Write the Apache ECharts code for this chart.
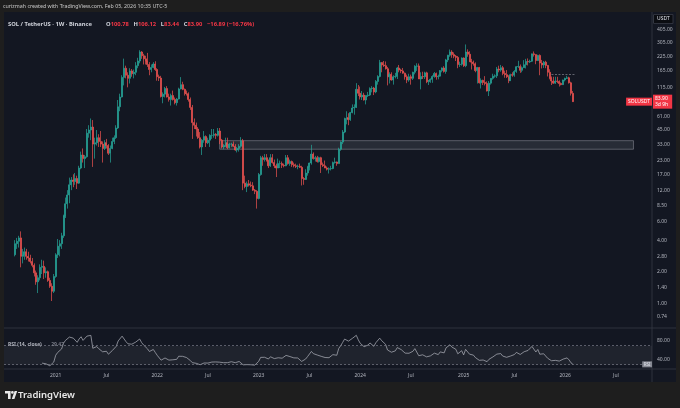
<!DOCTYPE html>
<html><head><meta charset="utf-8">
<script src="https://cdn.jsdelivr.net/npm/echarts@6/dist/echarts.min.js"></script>
<style>html,body{margin:0;padding:0;background:#1e1e1e;}#c{width:680px;height:408px;}</style>
</head><body><div id="c"></div>
<script>
// ---- data (weekly SOL/USDT, Binance) : [open, high, low, close] ----
const firstCategoryWeek = '2020-07-06';   // first weekly slot on the time axis
const firstCandleWeek = '2020-08-10';
const firstLabelWeek = '2021-01-04';
const categoryCount = 332;
const ohlc = [
// 2020
[2.90,4.00,2.80,3.70],[3.70,4.20,3.30,3.90],[3.90,4.40,3.40,4.20],[4.20,4.85,2.20,2.80],
[2.80,3.30,2.40,2.90],[2.90,3.40,2.60,3.10],[3.10,3.30,2.60,2.80],[2.80,3.10,2.50,2.70],
[2.70,2.90,2.40,2.50],[2.50,2.70,2.20,2.30],[2.30,2.40,1.80,1.95],[1.95,2.05,1.50,1.60],
[1.60,1.85,1.25,1.75],[1.75,2.35,1.65,2.20],[2.20,2.60,1.90,2.25],[2.25,2.55,1.70,1.95],
[1.95,2.20,1.75,2.00],[2.00,2.05,1.60,1.65],[1.65,1.75,1.40,1.45],[1.45,1.55,1.05,1.30],
[1.30,1.90,1.25,1.80],
// 2021
[1.80,3.00,1.75,2.90],[2.90,4.10,2.70,3.50],[3.50,4.00,2.80,3.70],[3.70,4.70,3.30,4.40],
[4.40,7.00,4.20,6.80],[6.80,10.2,6.50,8.90],[8.90,12.0,8.00,10.8],[10.8,15.8,9.00,13.5],
[13.5,16.0,12.0,15.0],[15.0,17.0,12.8,14.5],[14.5,17.5,13.5,15.5],[15.5,16.5,12.3,14.0],
[14.0,20.5,13.8,19.5],[19.5,28.0,19.0,26.0],[26.0,30.0,22.0,24.0],[24.0,26.0,19.5,25.0],
[25.0,46.0,24.5,42.0],[42.0,50.0,38.0,45.0],[45.0,58.0,36.0,48.0],[48.0,56.0,20.0,33.0],
[33,38,24,34],[34,45,32,38],[38,41,31,35],[35,44,31,33],[33,35,22,30],[30,36,29,34],
[34,37,30,32],[32,33,26,27],[27,32,22,30],[30,38,29.5,35],[35,40,33,38],[38,50,37,47],
[47,87,46,75],[75,100,68,93],[93,150,92,143],[143,216,120,175],[175,185,140,150],
[150,160,115,140],[140,175,125,165],[165,172,145,155],[155,170,140,160],[160,200,150,185],
[185,220,175,205],[205,260,195,250],[250,255,215,230],[230,240,190,215],[215,230,190,205],
[205,245,180,190],[190,200,150,170],[170,190,160,178],[178,200,175,192],[192,204,165,170],
// 2022
[170,175,133,145],[145,152,132,141],[141,148,92,94],[94,103,81,99],[99,116,92,112],
[112,118,92,93],[93,100,84,88],[88,100,77,96],[96,107,86,88],[88,92,79,82],[82,91,77,89],
[89,114,88,111],[111,144,110,122],[122,130,108,110],[110,112,96,101],[101,107,96,100],
[100,103,84,88],[88,92,70,74],[74,78,37,53],[53,58,46,50],[50,53,39,46],[46,48,37,38],
[38,43,30,31],[31,37,26,36],[36,44,34,39],[39,40,31,34],[34,38,33,36],[36,41,31,40],
[40,46,37,40],[40,46,38,41],[41,42,37,40],[40,47,39,44],[44,47,33,36],[36,37,30,31],
[31,33,29.5,32],[32,38,31,34],[34,38,29.5,30.5],[30.5,34,30,33],[33,34,31,33],
[33,35,31,31.5],[31.5,33,28.5,29],[29,31,27.5,30],[30,33,28,31.5],[31.5,38.5,30.5,35.5],
[35.5,37,12,14],[14,16.5,12.5,13],[13,14.5,11.5,13.8],[13.8,15,13,13.4],[13.4,14.5,12.8,13.2],
[13.2,14.3,11.8,12],[12,12.3,11,11.7],[11.7,12,8,10],
// 2023
[10,17.5,9.8,16.9],[16.9,25.5,16.5,24.5],[24.5,25.5,20.5,23.5],[23.5,26.5,22.5,24.5],
[24.5,26.5,22.5,23],[23,23.5,19.5,20.5],[20.5,26.5,20,24.5],[24.5,26.5,21.5,22],
[22,23.5,19.5,20.5],[20.5,21.5,16,19.5],[19.5,24,19.5,21.5],[21.5,23,19.5,21.5],
[21.5,22.5,19.5,20.7],[20.7,21.5,19.8,20.5],[20.5,26,20.3,24.5],[24.5,26,21,21.5],
[21.5,23.5,20.5,22.5],[22.5,23,20,21],[21,22,19.8,20.5],[20.5,21.5,19.5,20.2],
[20.2,21,19,20.3],[20.3,21.5,19.5,19.8],[19.8,20.5,13.3,15.5],[15.5,16,13.5,15.2],
[15.2,19,15,17.5],[17.5,20.5,16.5,20],[20,22,18.5,21.8],[21.8,32.5,21,26.5],
[26.5,27.5,23.5,24],[24,25.5,22.5,24.5],[24.5,25.5,22,22.5],[22.5,25,22,24.5],
[24.5,25,17.5,21],[21,22,20,20.5],[20.5,23,19.5,19.5],[19.5,20.2,18.5,19],
[19,19.8,17.3,19.2],[19.2,20.5,18.5,19.3],[19.3,22.5,19,22],[22,24.5,21.5,22.3],
[22.3,22.5,20.5,21.5],[21.5,30.5,21.5,29.5],[29.5,35,28.5,34.5],[34.5,45,33,43],
[43,59,42,58],[58,68,51,59],[59,65,50,56.5],[56.5,67,55,66],[66,79,65,73],[73,79,63,74],
[74,126,73,110],[110,121,95,101],
// 2024
[101,117,88,93],[93,106,87,97],[97,102,86,87],[87,96,79,96],[96,104,93,97],[97,115,95,112],
[112,118,103,113],[113,116,97,104],[104,135,101,131],[131,150,122,146],[146,210,143,198],
[198,200,160,188],[188,205,180,185],[185,203,170,173],[173,180,120,145],[145,160,125,153],
[153,160,133,135],[135,150,122,145],[145,158,140,146],[146,180,138,176],[176,188,160,168],
[168,173,157,165],[165,176,155,157],[157,159,136,145],[145,152,126,135],[135,155,130,145],
[145,152,122,140],[140,162,135,160],[160,187,153,183],[183,195,165,184],[184,194,138,138],
[138,160,110,146],[146,162,138,145],[145,162,138,158],[158,162,126,130],[130,135,121,134],
[134,140,127,137],[137,150,127,146],[146,161,142,156],[156,159,136,145],[145,152,137,147],
[147,168,145,166],[166,178,160,176],[176,183,159,163],[163,215,155,210],[210,235,200,233],
[233,264,225,250],[250,260,220,236],[236,248,218,228],[228,234,205,222],[222,229,175,190],
[190,202,180,191],[191,222,185,219],
// 2025
[219,222,180,185],[185,295,179,250],[250,265,225,238],[238,254,200,203],[203,215,170,200],
[200,207,185,193],[193,199,160,166],[166,180,125,178],[178,180,125,127],[127,140,112,134],
[134,136,121,128],[128,147,120,125],[125,131,105,106],[106,132,95,126],[126,140,122,140],
[140,155,136,147],[147,153,142,148],[148,180,141,172],[172,185,160,168],[168,188,162,177],
[177,184,150,156],[156,166,142,152],[152,168,141,145],[145,150,126,133],[133,155,132,152],
[152,160,145,150],[150,168,145,163],[163,183,158,181],[181,206,176,182],[182,190,158,167],
[167,182,160,177],[177,209,176,189],[189,215,174,203],[203,217,186,201],[201,211,196,204],
[204,241,201,240],[240,253,226,236],[236,237,191,207],[207,235,205,232],[232,237,150,196],
[196,210,174,188],[188,205,176,200],[200,206,175,186],[186,188,146,160],[160,171,137,141],
[141,146,121,132],[132,145,124,126],[126,145,124,132],[132,145,126,131],[131,134,117,125],
[125,128,120,122],[122,136,121,135],
// 2026
[135,142,131,140],[140,148,138,142],[142,145,125,127],[127,130,96,100.78],[100.78,106.12,83.44,83.90]
];
const priceTicks = [0.74,1,1.4,2,2.8,4,6,8.5,12,17,23,33,45,61,115,165,225,305,405];
const rsiTicks = [40, 80];
const rsiBands = [70, 30];
const rsiPeriod = 14;
const zone = { from: '2022-08-15', to: '2026-09-07', top: 35.6, bottom: 29.5 };
const rangeTop = { from: '2025-11-17', to: '2026-02-09', value: 153 };
const lastPrice = 83.90;
const legendParts = { name: 'SOL / TetherUS · 1W · Binance', o: '100.78', h: '106.12', l: '83.44', c: '83.90', chg: '−16.89 (−16.76%)' };
const rsiLegendValue = '29.47';
const headerText = 'curizmah created with TradingView.com, Feb 05, 2026 10:35 UTC-5';

// ---- build ----
const DAY = 864e5;
const t0 = Date.parse(firstCategoryWeek + 'T00:00:00Z');
const cats = [];
for (let k = 0; k < categoryCount; k++) cats.push(new Date(t0 + k * 7 * DAY).toISOString().slice(0, 10));
const offset = cats.indexOf(firstCandleWeek);

const candleData = cats.map((_, k) => {
  const c = ohlc[k - offset];
  return c ? [c[0], c[3], c[2], c[1]] : ['-', '-', '-', '-'];
});
const closes = ohlc.map(c => c[3]);
function rsiOf(vals, n) {
  const out = new Array(vals.length).fill(null);
  let g = 0, l = 0;
  for (let i = 1; i < vals.length; i++) {
    const d = vals[i] - vals[i - 1];
    const up = Math.max(d, 0), dn = Math.max(-d, 0);
    if (i <= n) { g += up / n; l += dn / n; }
    else { g = (g * (n - 1) + up) / n; l = (l * (n - 1) + dn) / n; }
    if (i >= n) out[i] = l === 0 ? 100 : 100 - 100 / (1 + g / l);
  }
  return out;
}
const rsi = rsiOf(closes, rsiPeriod);
const rsiData = cats.map((_, k) => { const v = rsi[k - offset]; return v == null ? '-' : +v.toFixed(2); });
const lastRsi = rsi[rsi.length - 1];

const UP = '#26a69a', DOWN = '#ef5350', TXT = '#b2b5be', FRAME = '#363a45';
const FONT = '"Noto Sans", Roboto, sans-serif';
const HIDDEN_LINE = { color: 'rgba(0,0,0,0)', width: 0 };

const chart = echarts.init(document.getElementById('c'), null, { renderer: 'canvas', width: 680, height: 408 });
chart.setOption({
  backgroundColor: '#1e1e1e',
  animation: false,
  textStyle: { fontFamily: FONT },
  title: [
    { left: 8, top: 15.5, padding: 0,
      text: `{w|${legendParts.name}}   {w|O}{r|${legendParts.o}} {w|H}{r|${legendParts.h}} {w|L}{r|${legendParts.l}} {w|C}{r|${legendParts.c}} {r|${legendParts.chg}}`,
      textStyle: { rich: { w: { color: '#d1d4dc', fontSize: 5.8, fontFamily: FONT }, r: { color: '#f23645', fontSize: 5.8, fontFamily: FONT } } } },
    { left: 8, top: 336, padding: 0,
      text: `{a|RSI (14, close)}  {b|${rsiLegendValue}}`,
      textStyle: { rich: { a: { color: TXT, fontSize: 5, fontFamily: FONT }, b: { color: '#787b86', fontSize: 5, fontFamily: FONT } } } }
  ],
  grid: [
    { left: 4, right: 28, top: 12, height: 316 },
    { left: 4, right: 28, top: 328, height: 41 }
  ],
  xAxis: [
    { type: 'category', data: cats, gridIndex: 0, axisLine: { show: false }, axisTick: { show: false }, axisLabel: { show: false }, splitLine: { show: false } },
    { type: 'category', data: cats, gridIndex: 1, axisLine: { show: false }, axisTick: { show: false }, splitLine: { show: false },
      axisLabel: { color: TXT, fontSize: 5, margin: 4, fontFamily: FONT,
        interval: (i, v) => { const d = new Date(v + 'T00:00:00Z'); return v >= firstLabelWeek && (d.getUTCMonth() === 0 || d.getUTCMonth() === 6) && d.getUTCDate() <= 7; },
        formatter: v => { const d = new Date(v + 'T00:00:00Z'); return d.getUTCMonth() === 0 ? String(d.getUTCFullYear()) : 'Jul'; } } }
  ],
  yAxis: [
    { type: 'log', logBase: 10, min: 0.58, max: 602, gridIndex: 0, position: 'right',
      axisLine: { show: false }, axisTick: { show: false }, splitLine: { show: false },
      axisLabel: { customValues: priceTicks, formatter: v => Number(v).toFixed(2), color: TXT, fontSize: 5, margin: 5, fontFamily: FONT } },
    { type: 'value', min: 21, max: 107, gridIndex: 1, position: 'right',
      axisLine: { show: false }, axisTick: { show: false }, splitLine: { show: false },
      axisLabel: { customValues: rsiTicks, formatter: v => Number(v).toFixed(2), color: TXT, fontSize: 5, margin: 5, fontFamily: FONT } }
  ],
  series: [
    { type: 'candlestick', xAxisIndex: 0, yAxisIndex: 0, data: candleData, barWidth: 1.5, large: false,
      emphasis: { disabled: true },
      itemStyle: { color: UP, color0: DOWN, borderColor: UP, borderColor0: DOWN, borderColorDoji: UP, borderWidth: 0.7 },
      markArea: { silent: true,
        itemStyle: { color: 'rgba(150,153,163,0.16)', borderColor: 'rgba(170,173,183,0.55)', borderWidth: 0.8 },
        data: [[{ xAxis: zone.from, yAxis: zone.top }, { xAxis: zone.to, yAxis: zone.bottom }]] },
      markLine: { silent: true, symbol: 'none', animation: false, label: { show: false },
        data: [
          [{ coord: [rangeTop.from, rangeTop.value], lineStyle: { color: '#9598a1', type: [2, 1.5], width: 0.6 } }, { coord: [rangeTop.to, rangeTop.value] }],
          { yAxis: lastPrice, lineStyle: HIDDEN_LINE,
            label: { show: true, position: 'end', distance: 1, formatter: lastPrice.toFixed(2) + '\n3d 9h', backgroundColor: '#f23645', color: '#ffffff', fontSize: 5, lineHeight: 6, padding: [1, 4, 1, 2], fontFamily: FONT } },
          { yAxis: lastPrice, lineStyle: HIDDEN_LINE,
            label: { show: true, position: 'insideEnd', distance: 0, formatter: 'SOLUSDT', backgroundColor: '#f23645', color: '#ffffff', fontSize: 5, padding: [1.5, 2], fontFamily: FONT } }
        ] } },
    { type: 'line', xAxisIndex: 1, yAxisIndex: 1, data: rsiData, symbol: 'none', connectNulls: false,
      lineStyle: { color: '#a9acb5', width: 0.75 },
      markArea: { silent: true, itemStyle: { color: 'rgba(120,123,134,0.12)' }, data: [[{ yAxis: rsiBands[0] }, { yAxis: rsiBands[1] }]] },
      markLine: { silent: true, symbol: 'none', animation: false,
        data: [
          { yAxis: rsiBands[0], lineStyle: { color: '#787b86', type: [2, 2], width: 0.7 }, label: { show: false } },
          { yAxis: rsiBands[1], lineStyle: { color: '#787b86', type: [2, 2], width: 0.7 }, label: { show: false } },
          { yAxis: lastRsi, lineStyle: HIDDEN_LINE,
            label: { show: true, position: 'insideEnd', distance: 0, formatter: 'RSI', backgroundColor: '#868993', color: '#e0e3eb', fontSize: 4.5, padding: [0.5, 1.5], fontFamily: FONT } }
        ] } }
  ],
  graphic: [
    { type: 'rect', z: -10, silent: true, shape: { x: 4, y: 12, width: 672, height: 370 }, style: { fill: '#131722' } },
    { type: 'line', silent: true, shape: { x1: 4, y1: 328, x2: 676, y2: 328 }, style: { stroke: FRAME, lineWidth: 0.8 } },
    { type: 'line', silent: true, shape: { x1: 4, y1: 369, x2: 676, y2: 369 }, style: { stroke: FRAME, lineWidth: 0.8 } },
    { type: 'line', silent: true, shape: { x1: 652, y1: 12, x2: 652, y2: 382 }, style: { stroke: FRAME, lineWidth: 0.8 } },
    { type: 'text', silent: true, x: 3, y: 6.5, style: { text: headerText, fill: '#c9c9c9', fontSize: 5.3, fontFamily: FONT, verticalAlign: 'middle' } },
    { type: 'text', silent: true, x: 654, y: 15, z: 10, style: { text: 'USDT', fill: '#e0e3eb', fontSize: 5, fontFamily: FONT, backgroundColor: '#0b0d12', borderColor: '#4a4d57', borderWidth: 0.6, padding: [1.5, 3] } },
    { type: 'polygon', silent: true, shape: { points: [[5, 391], [10.6, 391], [10.6, 399], [8, 399], [8, 393.6], [5, 393.6]] }, style: { fill: '#e8e8e8' } },
    { type: 'circle', silent: true, shape: { cx: 12.4, cy: 392.4, r: 1.4 }, style: { fill: '#e8e8e8' } },
    { type: 'polygon', silent: true, shape: { points: [[14.6, 391], [17.2, 391], [14.4, 399], [11.8, 399]] }, style: { fill: '#e8e8e8' } },
    { type: 'text', silent: true, x: 18, y: 395, style: { text: 'TradingView', fill: '#e8e8e8', fontSize: 9.5, fontWeight: 600, fontFamily: FONT, verticalAlign: 'middle' } }
  ]
});
</script>
</body></html>
